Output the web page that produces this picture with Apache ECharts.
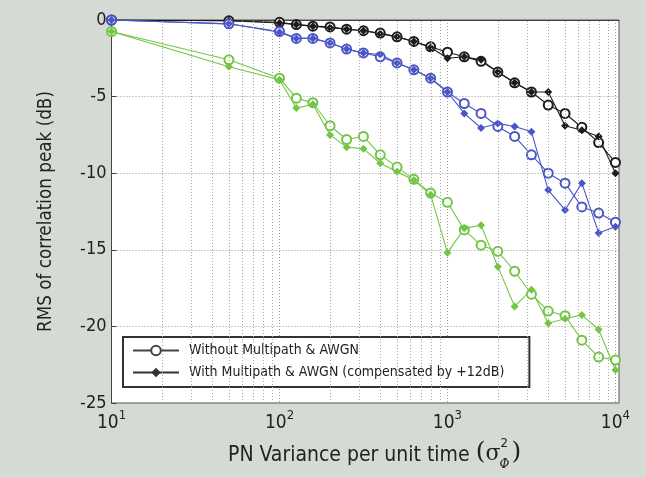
<!DOCTYPE html>
<html><head><meta charset="utf-8">
<script src="https://cdn.jsdelivr.net/npm/echarts@6/dist/echarts.min.js"></script>
<style>html,body{margin:0;padding:0;background:#d6dad4}#c{width:646px;height:478px}</style>
</head><body><div id="c"></div>
<script>
// ---- data ----
const xValues = [10,50,100,126,158,200,251,316,398,501,631,794,1000,1259,1585,1995,2512,3162,3981,5012,6310,7943,10000];
const blackWithout = [0,-0.05,-0.15,-0.3,-0.4,-0.45,-0.6,-0.7,-0.85,-1.1,-1.4,-1.75,-2.1,-2.4,-2.7,-3.4,-4.1,-4.7,-5.55,-6.1,-7.0,-8.0,-9.3];
const blackWith    = [0,-0.05,-0.2,-0.3,-0.4,-0.5,-0.6,-0.7,-0.9,-1.1,-1.4,-1.8,-2.5,-2.4,-2.6,-3.4,-4.1,-4.7,-4.7,-6.9,-7.2,-7.6,-10.0];
const blueWithout  = [0,-0.25,-0.75,-1.2,-1.2,-1.5,-1.9,-2.15,-2.4,-2.8,-3.25,-3.8,-4.7,-5.45,-6.1,-6.95,-7.6,-8.8,-10.0,-10.65,-12.2,-12.6,-13.2];
const blueWith     = [0,-0.25,-0.8,-1.2,-1.2,-1.5,-1.9,-2.15,-2.25,-2.8,-3.25,-3.8,-4.7,-6.1,-7.05,-6.75,-6.95,-7.3,-11.1,-12.4,-10.65,-13.9,-13.5];
const greenWithout = [-0.75,-2.6,-3.8,-5.1,-5.4,-6.9,-7.8,-7.6,-8.8,-9.6,-10.4,-11.3,-11.9,-13.7,-14.7,-15.1,-16.4,-17.9,-19.0,-19.3,-20.9,-22.0,-22.2];
const greenWith    = [-0.75,-3.05,-3.9,-5.75,-5.5,-7.5,-8.3,-8.4,-9.35,-9.9,-10.45,-11.4,-15.2,-13.6,-13.4,-16.1,-18.7,-17.6,-19.8,-19.5,-19.25,-20.2,-22.85];
const legendNames = ['Without Multipath & AWGN', 'With Multipath & AWGN (compensated by +12dB)'];
const yTicks = [-25,-20,-15,-10,-5,0];
const xDecades = [10,100,1000,10000];

const FONT = "'DejaVu Sans Condensed','DejaVu Sans',sans-serif";
const BLACK = '#1c1c1c', BLUE = '#4a55c6', GREEN = '#72c644';

// minor grid positions (2..9 x each decade)
const minorGrid = [];
for (let d = 0; d < xDecades.length - 1; d++) for (let m = 2; m <= 9; m++) minorGrid.push(xDecades[d] * m);

const pairs = ys => xValues.map((x, i) => [x, ys[i]]);
function mk(name, ys, color, filled) {
  return {
    name, type: 'line', data: pairs(ys), color,
    symbol: filled ? 'diamond' : 'emptyCircle', symbolSize: filled ? 8 : 9,
    lineStyle: { width: 1.1, color }, itemStyle: { color, borderWidth: 1.1 },
    z: 3, animation: false
  };
}

const chart = echarts.init(document.getElementById('c'));
const G = { left: 111.5, right: 27, top: 20, bottom: 75 };

// x-axis title pieces positioned with canvas measurement
const cv = document.createElement('canvas').getContext('2d');
function tw(t, f) { cv.font = f; return cv.measureText(t).width; }
const fT = "21px " + FONT, fP = "25px 'DejaVu Serif',serif", fS = "22px 'DejaVu Serif',serif";
const t1 = 'PN Variance per unit time ';
const w1 = tw(t1, fT), wp = tw('(', fP), ws = tw('σ', fS), wsup = 11, wpc = tw(')', fP);
let x0 = 228;
const ty = 457;
const graphic = [
  { type: 'text', left: x0, top: ty - 12, style: { text: t1, font: fT, fill: '#222' } },
  { type: 'text', left: x0 + w1, top: ty - 17, style: { text: '(', font: fP, fill: '#222' } },
  { type: 'text', left: x0 + w1 + wp, top: ty - 14, style: { text: 'σ', font: fS, fill: '#222' } },
  { type: 'text', left: x0 + w1 + wp + ws, top: ty - 20, style: { text: '2', font: "13px " + FONT, fill: '#222' } },
  { type: 'text', left: x0 + w1 + wp + ws - 1, top: ty + 2, style: { text: 'Φ', font: "italic 12px 'DejaVu Serif',serif", fill: '#222' } },
  { type: 'text', left: x0 + w1 + wp + ws + wsup, top: ty - 17, style: { text: ')', font: fP, fill: '#222' } }
];

const option = {
  backgroundColor: '#d6dad4',
  animation: false,
  textStyle: { fontFamily: FONT },
  grid: { ...G, show: true, backgroundColor: '#ffffff', borderColor: '#555', borderWidth: 1 },
  legend: {
    data: legendNames, orient: 'vertical', left: 123, top: 337,
    itemWidth: 46, itemHeight: 12, itemGap: 5,
    padding: [5, 25, 6, 9],
    backgroundColor: '#fff', borderColor: '#333', borderWidth: 2, borderRadius: 0,
    textStyle: { fontFamily: FONT, fontSize: 14, color: '#222', padding: [0, 0, 0, 5], lineHeight: 17 },
    selectedMode: false
  },
  xAxis: {
    type: 'log', logBase: 10, min: 10, max: 10500,
    axisLine: { lineStyle: { color: '#444', width: 1 } },
    axisTick: { show: false },
    splitLine: { show: true, lineStyle: { type: [1, 2], color: '#999', width: 1 } },
    axisLabel: {
      margin: 6, color: '#222',
      formatter: v => {
        const e = Math.log10(v), r = Math.round(e);
        if (Math.abs(e - r) > 0.005) return '';
        return '{b|10}{s|' + r + '}';
      },
      rich: {
        b: { fontSize: 19, fontFamily: FONT, color: '#222', lineHeight: 24, verticalAlign: 'bottom' },
        s: { fontSize: 13, fontFamily: FONT, color: '#222', lineHeight: 24, verticalAlign: 'top' }
      }
    }
  },
  yAxis: {
    type: 'value', min: -25, max: 0, interval: 5,
    name: 'RMS of correlation peak (dB)', nameLocation: 'middle', nameGap: 56,
    nameTextStyle: { fontSize: 18.7, fontFamily: FONT, color: '#222' },
    axisLine: { show: true, lineStyle: { color: '#444', width: 1 } },
    axisTick: { show: true, inside: true, length: 5, lineStyle: { color: '#444' } },
    splitLine: { show: true, lineStyle: { type: [1, 2], color: '#999', width: 1 } },
    axisLabel: { fontSize: 18, color: '#222', margin: 5, fontFamily: FONT }
  },
  graphic,
  series: [
    {
      name: 'minor-grid', type: 'line', data: [], silent: true,
      markLine: {
        silent: true, symbol: 'none', label: { show: false }, animation: false,
        lineStyle: { type: [1, 2], color: '#a8a8a8', width: 1 },
        data: minorGrid.map(v => ({ xAxis: v }))
      }, z: 1
    },
    mk('Without (black)', blackWithout, BLACK, false),
    mk('With (black)', blackWith, BLACK, true),
    mk('Without (blue)', blueWithout, BLUE, false),
    mk('With (blue)', blueWith, BLUE, true),
    mk('Without (green)', greenWithout, GREEN, false),
    mk('With (green)', greenWith, GREEN, true),
    { name: legendNames[0], type: 'line', data: [], color: '#444', symbol: 'emptyCircle', symbolSize: 9,
      lineStyle: { color: '#444', width: 1.5 }, itemStyle: { color: '#444' } },
    { name: legendNames[1], type: 'line', data: [], color: '#333', symbol: 'diamond', symbolSize: 8,
      lineStyle: { color: '#333', width: 1.5 }, itemStyle: { color: '#333' } }
  ]
};
chart.setOption(option);
</script>
</body></html>
